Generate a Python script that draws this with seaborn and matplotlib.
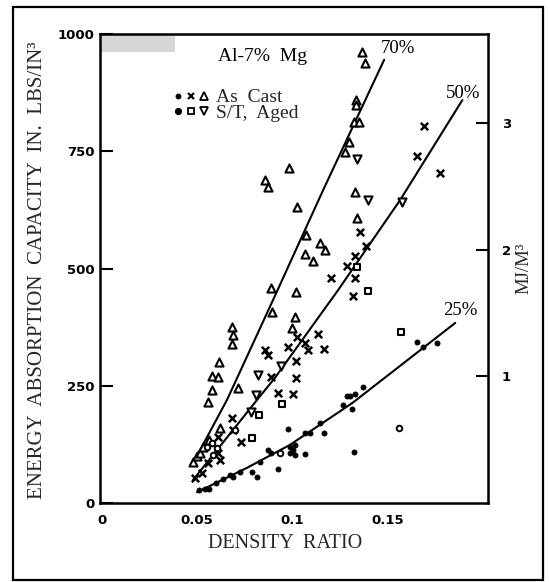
import numpy as np
import pandas as pd
import matplotlib
matplotlib.use("Agg")
import matplotlib.pyplot as plt
import seaborn as sns
from matplotlib.legend_handler import HandlerTuple
from matplotlib.lines import Line2D
from matplotlib.patches import Rectangle

# ---------------- data (density ratio, energy in lbs/in^3) ----------------
# As Cast, up-triangles
tri_up_x = [0.1368, 0.1384, 0.1337, 0.1337, 0.1326, 0.1353, 0.1300, 0.1279, 0.0984,
            0.0858, 0.0874, 0.1026, 0.1332, 0.1342, 0.1074, 0.1147, 0.1174, 0.1068,
            0.1111, 0.0889, 0.1021, 0.0895, 0.1016, 0.1000, 0.0684, 0.0689, 0.0684,
            0.0616, 0.0579, 0.0611, 0.0579, 0.0558, 0.0716, 0.0621, 0.0479, 0.0500,
            0.0516, 0.0532, 0.0563]
tri_up_y = [962, 938, 859, 849, 812, 812, 770, 748, 714,
            689, 674, 631, 663, 608, 571, 554, 539, 531,
            516, 458, 450, 407, 397, 373, 375, 358, 339,
            301, 271, 269, 241, 215, 245, 160, 87, 100,
            107, 119, 134]
# S/T Aged, down-triangles
tri_dn_x = [0.1342, 0.1400, 0.1579, 0.0942, 0.0821, 0.0811, 0.0784]
tri_dn_y = [733, 646, 642, 292, 273, 230, 194]
# As Cast, crosses
cross_x = [0.1695, 0.1658, 0.1779, 0.1358, 0.1389, 0.1332, 0.1289, 0.1332, 0.1205,
           0.1321, 0.1026, 0.0979, 0.1068, 0.1084, 0.1137, 0.1168, 0.1021, 0.1021,
           0.0926, 0.1005, 0.0858, 0.0874, 0.0889, 0.0684, 0.0689, 0.0732, 0.0611,
           0.0621, 0.0558, 0.0489, 0.0526, 0.0611]
cross_y = [804, 740, 704, 578, 548, 527, 505, 480, 480,
           441, 354, 333, 341, 326, 360, 328, 303, 267,
           235, 232, 326, 316, 269, 181, 156, 130, 141,
           92, 85, 53, 64, 107]
# S/T Aged, squares
square_x = [0.1400, 0.1342, 0.1574, 0.0947, 0.0826, 0.0789]
square_y = [452, 503, 365, 211, 188, 139]
# As Cast, dots
dot_x = [0.1658, 0.1689, 0.1763, 0.1374, 0.1289, 0.1305, 0.1332, 0.1268, 0.1316,
         0.1326, 0.1147, 0.1168, 0.1068, 0.1095, 0.0979, 0.1016, 0.1005, 0.1016,
         0.0989, 0.1068, 0.0926, 0.0989, 0.0889, 0.0874, 0.0832, 0.0816, 0.0789,
         0.0726, 0.0674, 0.0637, 0.0600, 0.0563, 0.0542, 0.0511, 0.0689]
dot_y = [343, 333, 341, 247, 228, 228, 232, 209, 200,
         109, 171, 149, 149, 149, 158, 124, 113, 102,
         107, 104, 72, 119, 107, 113, 87, 55, 66,
         66, 60, 51, 43, 30, 30, 28, 55]
# S/T Aged, open circles
circle_x = [0.1563, 0.0937, 0.0553, 0.0579, 0.0605, 0.0584, 0.0700]
circle_y = [160, 107, 119, 128, 117, 102, 156]

# fitted curves
c70_x = [0.0479, 0.0658, 0.0900, 0.1163, 0.1484]
c70_y = [85, 220, 433, 667, 945]
c50_x = [0.0479, 0.0816, 0.0910, 0.1242, 0.1568, 0.1895]
c50_y = [49, 220, 267, 454, 646, 859]
c25_x = [0.0500, 0.0763, 0.0989, 0.1316, 0.1858]
c25_y = [23, 75, 124, 213, 384]

curve_labels = ["70%", "50%", "25%"]
curve_label_x = [0.1558, 0.1900, 0.1884]
curve_label_y = [970, 874, 411]

x_ticks = [0, 0.05, 0.1, 0.15]
x_tick_labels = ["0", "0.05", "0.1", "0.15"]
y_ticks = [0, 250, 500, 750, 1000]
mj_ticks = [1, 2, 3]
mj_per_unit = 270.0  # lbs/in^3 per MJ/m^3 on this chart's right scale

# ---------------- style ----------------
sns.set_theme(style="white")
plt.rcParams["font.family"] = ["Liberation Serif", "DejaVu Serif"]
SERIF = ["Liberation Serif", "DejaVu Serif"]

fig = plt.figure(figsize=(5.5, 5.82), dpi=100)
ax = fig.add_axes([100 / 550, 1 - 503 / 582, 388 / 550, 469 / 582])

# scan artefact grey patch in the top-left corner
ax.add_patch(Rectangle((0, 0.962), 0.193, 0.038, transform=ax.transAxes,
                       facecolor="#d6d6d6", edgecolor="none", zorder=0))

# curves
for cx, cy in [(c70_x, c70_y), (c50_x, c50_y), (c25_x, c25_y)]:
    sns.lineplot(x=cx, y=cy, color="black", lw=1.5, ax=ax, sort=False,
                 estimator=None, zorder=2)

# points
sns.scatterplot(x=tri_up_x, y=tri_up_y, marker="^", s=34, color="white",
                edgecolor="black", linewidth=1.5, ax=ax, zorder=3)
sns.scatterplot(x=tri_dn_x, y=tri_dn_y, marker="v", s=34, color="white",
                edgecolor="black", linewidth=1.5, ax=ax, zorder=3)
sns.scatterplot(x=cross_x, y=cross_y, marker="x", s=28, color="black",
                linewidth=1.8, ax=ax, zorder=3)
sns.scatterplot(x=square_x, y=square_y, marker="s", s=24, color="white",
                edgecolor="black", linewidth=1.5, ax=ax, zorder=3)
sns.scatterplot(x=dot_x, y=dot_y, marker="o", s=14, color="black",
                edgecolor="black", linewidth=0.5, ax=ax, zorder=3)
sns.scatterplot(x=circle_x, y=circle_y, marker="o", s=16, color="white",
                edgecolor="black", linewidth=1.4, ax=ax, zorder=3)

ax.set_xlim(-0.001, 0.203)
ax.set_ylim(0, 1000)
ax.set_xticks(x_ticks)
ax.set_xticklabels(x_tick_labels)
ax.set_yticks(y_ticks)
ax.set_yticklabels([str(v) for v in y_ticks])
ax.set_xlabel("")
ax.set_ylabel("")
ax.tick_params(axis="y", direction="in", length=9, width=1.5, pad=4,
               labelsize=9.5, colors="black")
ax.tick_params(axis="x", direction="in", length=4.5, width=1.5, pad=8,
               labelsize=9.5, colors="black")
for lab in ax.get_xticklabels() + ax.get_yticklabels():
    lab.set_fontfamily("DejaVu Sans")
    lab.set_fontweight("bold")
for sp in ax.spines.values():
    sp.set_color("black")
    sp.set_linewidth(1.8)

ax2 = ax.twinx()
ax2.set_ylim(0, 1000 / mj_per_unit)
ax2.set_yticks(mj_ticks)
ax2.set_yticklabels([str(v) for v in mj_ticks])
ax2.tick_params(axis="y", direction="in", length=9, width=1.5, pad=10,
                labelsize=9.5, colors="black")
for lab in ax2.get_yticklabels():
    lab.set_fontfamily("DejaVu Sans")
    lab.set_fontweight("bold")
for sp in ax2.spines.values():
    sp.set_visible(False)

# curve labels
for t, lx, ly in zip(curve_labels, curve_label_x, curve_label_y):
    ax.text(lx, ly, t, fontsize=13.5, family=SERIF, ha="center", va="center",
            color="black")

# title text and legend
ax.text(0.42, 0.951, "Al-7%  Mg", transform=ax.transAxes, fontsize=14,
        family=SERIF, ha="center", va="center", color="black")
h_dot = Line2D([], [], marker="o", ls="", color="black", ms=3.2)
h_x = Line2D([], [], marker="x", ls="", color="black", ms=4.5, mew=1.6)
h_up = Line2D([], [], marker="^", ls="", mfc="white", mec="black", ms=5.5, mew=1.3)
h_circ = Line2D([], [], marker="o", ls="", color="black", ms=4.2)
h_sq = Line2D([], [], marker="s", ls="", mfc="white", mec="black", ms=4.5, mew=1.3)
h_dn = Line2D([], [], marker="v", ls="", mfc="white", mec="black", ms=5.5, mew=1.3)
leg = ax.legend([(h_dot, h_x, h_up), (h_circ, h_sq, h_dn)],
                ["As  Cast", "S/T,  Aged"],
                handler_map={tuple: HandlerTuple(ndivide=None, pad=0.2)},
                loc="upper left", bbox_to_anchor=(0.19, 0.883), frameon=False,
                handlelength=1.8, handletextpad=0.35, labelspacing=-0.1,
                borderpad=0.0, borderaxespad=0.0,
                prop={"family": SERIF, "size": 14})

# axis titles
fig.text(38 / 550, 1 - 270 / 582, "ENERGY  ABSORPTION  CAPACITY  IN.  LBS/IN³",
         rotation=90, ha="center", va="center", fontsize=15, family=SERIF)
fig.text(285 / 550, 1 - 544 / 582, "DENSITY  RATIO", ha="center", va="center",
         fontsize=14.5, family=SERIF)
fig.text(524 / 550, 1 - 268 / 582, "MJ/M³", rotation=90, ha="center",
         va="center", fontsize=13.5, family=SERIF)

# outer frame
fig.patches.append(Rectangle((13 / 550, 2 / 582), 530 / 550, 573 / 582,
                             transform=fig.transFigure, fill=False,
                             edgecolor="black", linewidth=1.6))

fig.savefig("out.png", dpi=100)
